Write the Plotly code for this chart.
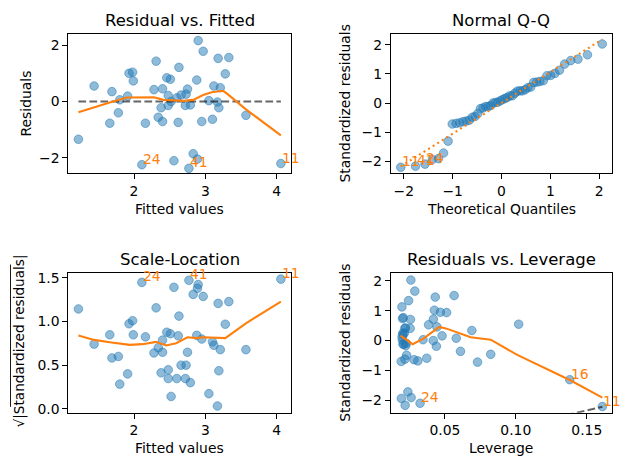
import numpy as np
import plotly.graph_objects as go

# ---------------- data ----------------
fitted = [1.22, 1.44, 1.66, 1.69, 1.78, 1.80, 1.91, 1.93, 1.98, 1.99,
          2.11, 2.16, 2.28, 2.31, 2.34, 2.38, 2.40, 2.40, 2.46, 2.48,
          2.48, 2.51, 2.52, 2.56, 2.60, 2.62, 2.63, 2.66, 2.72, 2.73,
          2.75, 2.77, 2.79, 2.83, 2.88, 2.89, 2.90, 2.95, 2.97, 3.05,
          3.10, 3.12, 3.17, 3.18, 3.19, 3.21, 3.28, 3.33, 3.57, 4.06]
residuals = [-1.34, 0.55, -0.77, 0.35, -0.40, 0.06, 0.19, 1.00, 1.04, 0.73,
             -2.24, -0.77, 0.42, 1.43, -0.56, -0.22, 0.45, -0.71, 0.84, 0.21,
             -0.14, 0.79, 0.00, -2.10, 0.13, -0.74, 1.21, 0.23, -0.14, 0.26,
             0.44, -2.37, -0.12, -1.85, 0.76, -2.04, 2.16, -0.71, 1.78, 0.03,
             -0.63, 0.55, -0.02, 1.53, -0.22, 0.49, 0.98, 1.56, -0.49, -2.20]
std_resid = [-1.31, 0.55, -0.72, 0.34, -0.36, 0.08, 0.16, 0.95, 1.02, 0.72,
             -2.10, -0.68, 0.41, 1.34, -0.49, -0.17, 0.42, -0.62, 0.77, 0.20,
             -0.12, 0.74, 0.02, -1.94, 0.12, -0.70, 1.13, 0.25, -0.12, 0.25,
             0.42, -2.17, -0.09, -1.72, 0.71, -1.91, 2.03, -0.64, 1.66, 0.03,
             -0.59, 0.53, 0.001, 1.46, -0.19, 0.46, 0.94, 1.51, -0.46, -2.21]
leverage = [0.138, 0.102, 0.073, 0.069, 0.061, 0.058, 0.048, 0.0468, 0.0426, 0.0419,
            0.0325, 0.0309, 0.0255, 0.0244, 0.0230, 0.0224, 0.0222, 0.0218, 0.0207, 0.0205,
            0.0204, 0.0201, 0.0200, 0.0193, 0.0198, 0.0192, 0.0197, 0.0203, 0.0211, 0.0214,
            0.0218, 0.0220, 0.0228, 0.0239, 0.0257, 0.0262, 0.0260, 0.0282, 0.0288, 0.0346,
            0.0372, 0.0385, 0.0418, 0.0432, 0.0440, 0.0444, 0.0512, 0.0565, 0.0823, 0.161]

# observation ids of the labelled points (position in the arrays -> id)
labelled_pos = [0, 10, 31, 49]
labelled_id = ["16", "24", "41", "11"]
resid_label_ids = ["11", "24", "41"]
qq_label_ids = ["11", "41", "24"]
lev_label_ids = ["16", "24", "11"]

theo_quantiles = [-2.062, -1.760, -1.565, -1.416, -1.292, -1.187, -1.093, -1.008, -0.929, -0.856,
                  -0.786, -0.721, -0.659, -0.599, -0.541, -0.485, -0.431, -0.377, -0.325, -0.274,
                  -0.223, -0.173, -0.123, -0.074, -0.025, 0.025, 0.074, 0.123, 0.173, 0.223,
                  0.274, 0.325, 0.377, 0.431, 0.485, 0.541, 0.599, 0.659, 0.721, 0.786,
                  0.856, 0.929, 1.008, 1.093, 1.187, 1.292, 1.416, 1.565, 1.760, 2.062]

lowess_rf_x = [1.22, 1.43, 1.66, 1.90, 2.04, 2.28, 2.41, 2.55, 2.69, 2.83, 2.97, 3.09, 3.25, 3.30, 3.57, 4.06]
lowess_rf_y = [-0.385, -0.21, -0.035, 0.14, 0.15, 0.15, 0.058, 0.035, 0.023, 0.058, 0.23, 0.33, 0.38, 0.29, -0.28, -1.20]
lowess_sl_x = [1.22, 1.44, 1.66, 1.94, 2.12, 2.31, 2.45, 2.59, 2.75, 2.88, 2.97, 3.11, 3.28, 3.58, 4.06]
lowess_sl_y = [0.839, 0.79, 0.763, 0.733, 0.741, 0.767, 0.726, 0.752, 0.82, 0.81, 0.82, 0.816, 0.81, 0.985, 1.229]
lowess_lev_x = [0.0187, 0.0273, 0.0351, 0.046, 0.0507, 0.0682, 0.0823, 0.101, 0.138, 0.161]
lowess_lev_y = [0.165, -0.12, 0.076, 0.46, 0.41, 0.11, 0.03, -0.48, -1.32, -1.91]
qq_line_x = [-2.062, 2.062]
qq_line_y = [-2.18, 2.19]
cook_x = [0.128, 0.1407, 0.161]
cook_y = [-2.60, -2.44, -2.22]

# ---------------- styling ----------------
W, H = 630, 469
FONT = "DejaVu Sans"
BLUE_FILL = "rgba(31,119,180,0.5)"
ORANGE = "#ff7f0e"
GRAY = "rgba(0,0,0,0.6)"
LW = 2.08

def xdom(a, b):
    return [a / W, b / W]

def ydom(top, bottom):
    return [1 - bottom / H, 1 - top / H]

cols = [(68.3, 291.0), (390.7, 612.3)]
rows = [(31.0, 173.0), (274.0, 416.0)]

fig = go.Figure()

marker = dict(size=8.6, color=BLUE_FILL, line=dict(color=BLUE_FILL, width=1))

f = np.array(fitted)
r = np.array(residuals)
sr = np.array(std_resid)
lev = np.array(leverage)
sl = np.sqrt(np.abs(sr))
id_to_pos = dict(zip(labelled_id, labelled_pos))

# Panel 1: residual vs fitted
fig.add_trace(go.Scatter(x=f, y=r, mode="markers", marker=marker, xaxis="x", yaxis="y"))
fig.add_trace(go.Scatter(x=[f.min(), f.max()], y=[0, 0], mode="lines",
                         line=dict(color=GRAY, width=LW, dash="7.7px,3.3px"), xaxis="x", yaxis="y"))
fig.add_trace(go.Scatter(x=lowess_rf_x, y=lowess_rf_y, mode="lines",
                         line=dict(color=ORANGE, width=LW), xaxis="x", yaxis="y"))

# Panel 2: Normal Q-Q
order = np.argsort(sr)
sorted_sr = sr[order]
fig.add_trace(go.Scatter(x=theo_quantiles, y=sorted_sr, mode="markers", marker=marker, xaxis="x2", yaxis="y2"))
fig.add_trace(go.Scatter(x=qq_line_x, y=qq_line_y, mode="lines",
                         line=dict(color=ORANGE, width=LW, dash="2px,3.4px"), xaxis="x2", yaxis="y2"))

# Panel 3: scale-location
fig.add_trace(go.Scatter(x=f, y=sl, mode="markers", marker=marker, xaxis="x3", yaxis="y3"))
fig.add_trace(go.Scatter(x=lowess_sl_x, y=lowess_sl_y, mode="lines",
                         line=dict(color=ORANGE, width=LW), xaxis="x3", yaxis="y3"))

# Panel 4: residuals vs leverage
fig.add_trace(go.Scatter(x=lev, y=sr, mode="markers", marker=marker, xaxis="x4", yaxis="y4"))
fig.add_trace(go.Scatter(x=lowess_lev_x, y=lowess_lev_y, mode="lines",
                         line=dict(color=ORANGE, width=LW), xaxis="x4", yaxis="y4"))
fig.add_trace(go.Scatter(x=cook_x, y=cook_y, mode="lines",
                         line=dict(color=GRAY, width=LW, dash="7.7px,3.3px"), xaxis="x4", yaxis="y4"))

annotations = []

def point_label(text, x, y, ax):
    annotations.append(dict(text=text, x=x, y=y, xref="x" + ax, yref="y" + ax,
                            xanchor="left", yanchor="bottom", showarrow=False, yshift=-3,
                            borderpad=0, font=dict(family=FONT, size=13.9, color=ORANGE)))

for lid in resid_label_ids:
    p = id_to_pos[lid]
    point_label(lid, f[p], r[p], "")
    point_label(lid, f[p], sl[p], "3")
rank = {int(pos): k for k, pos in enumerate(order)}
for lid in qq_label_ids:
    k = rank[id_to_pos[lid]]
    point_label(lid, theo_quantiles[k], sorted_sr[k], "2")
for lid in lev_label_ids:
    p = id_to_pos[lid]
    point_label(lid, lev[p], sr[p], "4")

def paper_text(text, px, py, size, angle=0):
    annotations.append(dict(text=text, x=px / W, y=1 - py / H, xref="paper", yref="paper",
                            xanchor="center", yanchor="middle", showarrow=False, textangle=angle,
                            font=dict(family=FONT, size=size, color="black")))

cx = [(a + b) / 2 for a, b in cols]
cy = [(a + b) / 2 for a, b in rows]
paper_text("Residual vs. Fitted", cx[0], 17.5, 16.5)
paper_text("Normal Q-Q", cx[1], 17.5, 16.5)
paper_text("Scale-Location", cx[0], 260.5, 16.5)
paper_text("Residuals vs. Leverage", cx[1], 260.5, 16.5)
paper_text("Fitted values", cx[0], 209, 13.9)
paper_text("Theoretical Quantiles", cx[1], 209, 13.9)
paper_text("Fitted values", cx[0], 452, 13.9)
paper_text("Leverage", cx[1], 452, 13.9)
paper_text("Residuals", 26, cy[0], 13.9, -90)
paper_text("Standardized residuals", 345, cy[0], 13.9, -90)
paper_text("√|Standardized residuals|", 19.5, 343, 13.6, -90)
paper_text("Standardized residuals", 345, cy[1], 13.9, -90)

def axis(dom, rng, tickvals, ticktext, anchor):
    return dict(domain=dom, range=rng, tickvals=tickvals, ticktext=ticktext, anchor=anchor,
                showline=True, linecolor="black", linewidth=1.1, mirror=True,
                ticks="outside", ticklen=4.9, tickwidth=1.1, tickcolor="black",
                showgrid=False, zeroline=False,
                tickfont=dict(family=FONT, size=13.9, color="black"))

fig.update_layout(
    width=W, height=H, margin=dict(l=0, r=0, t=0, b=0),
    paper_bgcolor="white", plot_bgcolor="white", showlegend=False,
    font=dict(family=FONT, color="black"),
    xaxis=axis(xdom(*cols[0]), [1.078, 4.202], [2, 3, 4], ["2", "3", "4"], "y"),
    yaxis=axis(ydom(*rows[0]), [-2.55, 2.41], [-2, 0, 2], ["−2", "0", "2"], "x"),
    xaxis2=axis(xdom(*cols[1]), [-2.268, 2.268], [-2, -1, 0, 1, 2], ["−2", "−1", "0", "1", "2"], "y2"),
    yaxis2=axis(ydom(*rows[0]), [-2.42, 2.39], [-2, -1, 0, 1, 2], ["−2", "−1", "0", "1", "2"], "x2"),
    xaxis3=axis(xdom(*cols[0]), [1.078, 4.202], [2, 3, 4], ["2", "3", "4"], "y3"),
    yaxis3=axis(ydom(*rows[1]), [-0.046, 1.558], [0, 0.5, 1.0, 1.5], ["0.0", "0.5", "1.0", "1.5"], "x3"),
    xaxis4=axis(xdom(*cols[1]), [0.0118, 0.168], [0.05, 0.10, 0.15], ["0.05", "0.10", "0.15"], "y4"),
    yaxis4=axis(ydom(*rows[1]), [-2.42, 2.27], [-2, -1, 0, 1, 2], ["−2", "−1", "0", "1", "2"], "x4"),
    annotations=annotations,
)

# overline of the square-root sign in the scale-location y label
fig.add_shape(type="line", xref="paper", yref="paper",
              x0=10.5 / W, x1=10.5 / W, y0=1 - 265.5 / H, y1=1 - 410 / H,
              line=dict(color="black", width=0.9))

fig.write_html("out.html")
